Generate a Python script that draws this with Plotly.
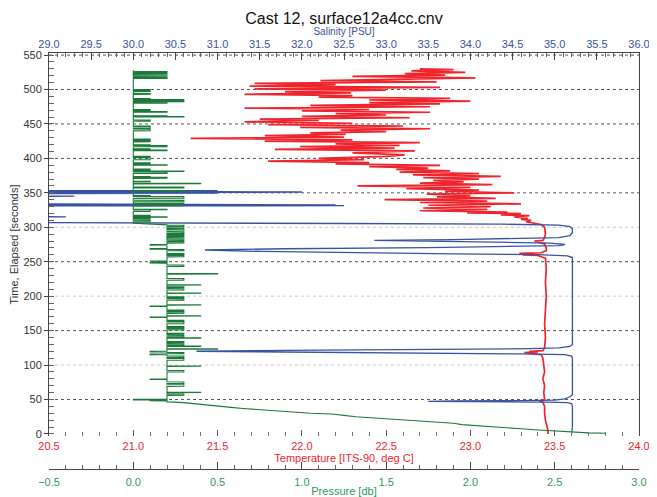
import plotly.graph_objects as go

chart_title = "Cast 12, surface12a4cc.cnv"

# ---------------- Temperature [ITS-90, deg C] (red) vs elapsed time ----------------
temp_time = [0, 5, 10, 15, 20, 30, 40, 46, 48, 50, 60, 70, 80, 90, 100, 110, 115, 117, 118, 119, 120,
             121, 125, 140, 160, 180, 200, 220, 240, 255, 259, 260, 261, 262, 263, 266, 270, 276, 279,
             280, 281, 285, 290, 300, 304, 306, 308, 310, 311.5, 313, 315, 317, 318, 320, 321, 322,
             324, 326, 328, 330, 332, 334, 336, 338, 340, 342, 344, 346, 348, 350, 352, 354, 356,
             358, 360, 362, 364, 366, 368, 370, 372, 374, 376, 378, 380, 382, 384, 386, 388, 390,
             392, 394, 396, 398, 400, 403, 405, 408, 411, 413, 415, 417, 419, 421, 423, 425, 427,
             429, 431, 433, 435, 437, 439, 441, 443, 445, 447, 449, 451, 453, 455, 457, 459, 461,
             463, 465, 467, 469, 471, 473, 475, 477, 479, 481, 483, 485, 487, 489, 491, 493, 495,
             497, 499, 501, 503, 505, 507, 509, 511, 513, 515, 517, 519, 521, 523, 525, 527, 529, 530]
temp_val = [23.46, 23.46, 23.455, 23.45, 23.445, 23.44, 23.44, 23.43, 23.41, 23.44, 23.435, 23.44,
            23.43, 23.44, 23.435, 23.43, 23.42, 23.36, 23.32, 23.40, 23.35, 23.43, 23.44, 23.445,
            23.44, 23.445, 23.45, 23.445, 23.45, 23.445, 23.40, 23.31, 23.38, 23.29, 23.42, 23.45,
            23.45, 23.44, 23.40, 23.38, 23.43, 23.44, 23.445, 23.44, 23.42, 23.38, 23.33, 23.36,
            23.30, 23.34, 23.26, 23.35, 23.18, 23.30, 22.98, 23.22, 22.70, 23.10, 22.72, 23.12,
            22.75, 23.30, 22.70, 23.10, 22.49, 23.15, 22.80, 23.00, 22.74, 23.26, 22.85, 23.05,
            22.62, 23.00, 22.33, 23.13, 22.70, 22.96, 22.78, 23.05, 22.72, 23.18, 22.66, 23.05,
            22.58, 22.88, 22.56, 22.75, 22.40, 22.82, 22.20, 22.40, 21.80, 22.37, 22.10, 22.50,
            22.61, 22.30, 22.67, 21.84, 22.55, 21.99, 22.58, 22.20, 22.70, 21.78, 22.30, 21.34,
            22.25, 21.78, 22.26, 22.05, 22.50, 22.23, 22.76, 21.99, 22.60, 21.80, 22.30, 21.66,
            22.10, 21.75, 22.64, 22.00, 22.50, 22.20, 22.76, 22.00, 22.40, 21.66, 22.76, 22.05,
            22.82, 22.40, 23.00, 22.40, 22.88, 22.10, 22.30, 21.66, 22.29, 21.90, 22.50, 21.72,
            22.82, 21.69, 22.20, 21.72, 22.80, 22.11, 22.60, 23.03, 22.30, 22.85, 22.61, 22.97,
            22.65, 22.90, 22.70]

# ---------------- Salinity [PSU] (blue) vs elapsed time ----------------
sal_time = [0, 10, 20, 30, 40, 44, 45.5, 46.3, 46.8, 47.3, 47.8, 48.3, 49, 51, 54, 57, 70, 90, 110,
            113, 115, 116.2, 117.2, 118.5, 120, 121.2, 122.5, 123.8, 125, 127, 130, 160, 200, 240,
            256, 258.5, 260.2, 261.5, 263, 265, 267, 268.8, 270.5, 272, 273.5, 275, 277, 278.5,
            279.8, 281, 282.2, 283.5, 285, 288, 292, 298, 301, 303, 304.5, 305.5, 306.2, 307,
            314.6, 315.2, 315.8, 330.8, 331.4, 332.0, 332.6, 333.2, 333.6, 334.2, 344.5, 345.1,
            345.7, 348.8, 349.4, 350.0, 350.6, 351.2, 351.8, 352.4, 353.0, 353.5, 530]
sal_val = [35.20, 35.21, 35.21, 35.21, 35.21, 35.20, 35.15, 34.9, 34.3, 33.5, 33.8, 34.6, 35.0,
           35.12, 35.18, 35.21, 35.21, 35.21, 35.21, 35.20, 35.12, 34.6, 33.4, 32.0, 30.75, 31.8,
           33.6, 34.7, 35.05, 35.18, 35.21, 35.21, 35.21, 35.21, 35.21, 35.15, 34.8, 33.8, 32.5,
           31.5, 30.85, 31.8, 33.5, 34.6, 35.05, 35.12, 34.95, 34.3, 33.4, 32.86, 33.8, 34.7,
           35.05, 35.18, 35.21, 35.21, 35.18, 35.05, 34.4, 32.5, 29.5, 28.0, 28.0, 29.2, 28.0,
           28.0, 32.5, 28.0, 32.4, 28.0, 31.1, 28.0, 28.0, 29.3, 28.0, 28.0, 31.0, 28.0, 31.0,
           32.0, 31.0, 28.0, 31.0, 28.0, 28.0]

# ---------------- Pressure [db] (green) vs elapsed time ----------------
pres_descent_time = [0.0, 1.0, 1.5, 2.5, 3.0, 4.0, 5.0, 6.0, 7.5, 9.0, 10.5, 12.5, 13.5, 15.5, 17.0,
                     19.0, 20.0, 22.0, 23.0, 25.0, 27.0, 29.0, 30.0, 31.5, 33.0, 35.0, 37.0, 38.5,
                     40.5, 42.5, 44.0, 45.5]
pres_descent_val = [2.80, 2.80, 2.70, 2.62, 2.55, 2.50, 2.40, 2.38, 2.30, 2.22, 2.10, 2.02, 1.95,
                    1.90, 1.80, 1.70, 1.60, 1.52, 1.40, 1.32, 1.25, 1.18, 1.05, 0.95, 0.85, 0.78,
                    0.65, 0.58, 0.50, 0.42, 0.35, 0.30]
# stretches where the reading rests on one level
pres_rest_start = [46.5, 306.0]
pres_rest_end = [303.5, 528.0]
pres_rest_level = [0.2, 0.0]
# short excursions away from the resting level: start time, level reached, duration
pres_exc_time = [48.0, 49.3, 56, 60, 69, 73, 79, 90, 98, 107, 111, 115, 116.5, 119, 123, 127, 129,
                 132.5, 139, 141, 144.5, 151, 154.5, 160, 163.5, 169, 171, 175, 178.5, 185, 187,
                 194, 197.5, 204, 209, 212, 216, 223, 232, 243, 248, 250.5, 257, 260.5, 266, 268,
                 274, 277, 280.5, 284, 286.5, 289, 291, 294, 298, 301,
                 308, 312, 314.5, 316, 323, 325.5, 331, 334, 337, 342, 345, 352, 357, 363, 366,
                 371, 373, 378, 381, 383, 390, 392, 398, 402, 411, 413, 417, 419, 424, 427, 440,
                 443.5, 446, 454, 460, 461, 467, 469.5, 480, 482, 484.5, 486, 493, 497, 499, 516,
                 519, 522, 525]
pres_exc_level = [0.1, 0.0, 0.3, 0.4, 0.3, 0.3, 0.1, 0.3, 0.4, 0.3, 0.3, 0.1, 0.3, 0.1, 0.5, 0.4,
                  0.3, 0.3, 0.4, 0.3, 0.3, 0.3, 0.3, 0.3, 0.3, 0.1, 0.4, 0.3, 0.3, 0.1, 0.4, 0.3,
                  0.3, 0.4, 0.3, 0.3, 0.4, 0.3, 0.5, 0.3, 0.1, 0.1, 0.3, 0.3, 0.3, 0.1, 0.1, 0.3,
                  0.3, 0.3, 0.3, 0.3, 0.3, 0.3, 0.3, 0.3,
                  0.1, 0.1, 0.2, 0.1, 0.1, 0.2, 0.3, 0.3, 0.3, 0.3, 0.1, 0.3, 0.3, 0.4, 0.1, 0.2,
                  0.1, 0.2, 0.3, 0.1, 0.2, 0.1, 0.1, 0.1, 0.2, 0.1, 0.2, 0.1, 0.1, 0.1, 0.1, 0.1,
                  0.1, 0.1, 0.3, 0.2, 0.2, 0.1, 0.2, 0.3, 0.3, 0.1, 0.1, 0.1, 0.1, 0.2, 0.2, 0.2,
                  0.2]
pres_exc_dur = [0.8, 0.8, 2, 0.6, 3, 2.5, 0.8, 2, 0.6, 2.5, 2, 0.8, 1.5, 0.8, 0.6, 0.6, 2, 1.5, 0.6,
                2, 1.5, 2, 1.5, 2.5, 1.5, 0.8, 0.6, 2, 1.5, 0.8, 0.6, 2, 1.5, 0.6, 2, 1.5, 0.6, 2.5,
                0.8, 2, 0.8, 0.6, 2, 1.5, 1.5, 1.0, 0.8, 2, 1.5, 1.5, 1, 1.5, 2, 2.5, 2, 2,
                2, 1.5, 0.6, 1.5, 2, 0.6, 2, 0.8, 2, 2.5, 1, 1.5, 1.5, 0.8, 0.8, 1.5, 0.8, 2, 0.6,
                1.5, 0.6, 1.5, 3, 1, 1, 0.8, 1.5, 0.8, 1.5, 1, 2.5, 2, 0.8, 1.5, 0.6, 0.8, 1, 1.5,
                1, 1.5, 0.8, 0.8, 1, 1.5, 0.8, 1.5, 0.8, 1.5, 1.2]

# ---------------- axes ----------------
time_ticks = list(range(0, 551, 50))
grid_dark = [50, 150, 250, 350, 400, 450, 500, 550]
grid_light = [100, 200, 300]

RED = "#f0242c"
BLUE = "#3953a4"
GREEN = "#2e9a5a"
GREEN_LINE = "#1b7a3a"
FONT = "Liberation Sans, Arial, sans-serif"

# build the pressure path from the read-off pieces
pt, pv = list(pres_descent_time), list(pres_descent_val)
for s, e, base in zip(pres_rest_start, pres_rest_end, pres_rest_level):
    pt.append(s)
    pv.append(base)
    for t0, lvl, d in zip(pres_exc_time, pres_exc_level, pres_exc_dur):
        if s <= t0 < e:
            pt += [t0, t0 + 0.15, t0 + d, t0 + d + 0.15]
            pv += [base, lvl, lvl, base]
    pt.append(e)
    pv.append(base)

fig = go.Figure()
fig.add_trace(go.Scatter(x=pv, y=pt, mode="lines", xaxis="x3", yaxis="y",
                         line=dict(color=GREEN_LINE, width=1.1), name="Pressure"))
fig.add_trace(go.Scatter(x=sal_val, y=sal_time, mode="lines", xaxis="x2", yaxis="y",
                         line=dict(color=BLUE, width=1.3), name="Salinity"))
fig.add_trace(go.Scatter(x=temp_val, y=temp_time, mode="lines", xaxis="x", yaxis="y",
                         line=dict(color=RED, width=1.7), name="Temperature"))

for g in grid_dark:
    fig.add_hline(y=g, line=dict(color="#555555", width=1, dash="dot"), layer="below")
for g in grid_light:
    fig.add_hline(y=g, line=dict(color="#c8c8c8", width=1, dash="dot"), layer="below")

# the page body has an 8 px margin, so the figure is drawn 8 px in from the corner
FIG_W, FIG_H = 649, 489
M_L, M_R, M_T, M_B = 41, 18, 45, 28
plot_bottom_px = 33
plot_h = FIG_H - M_T - M_B

fig.update_layout(
    width=FIG_W, height=FIG_H,
    margin=dict(l=M_L, r=M_R, t=M_T, b=M_B, autoexpand=False),
    paper_bgcolor="white", plot_bgcolor="white",
    showlegend=False,
    font=dict(family=FONT, size=11, color="#333333"),
    title=dict(text=chart_title, x=0.5, xref="paper", y=1 - 10 / FIG_H, yref="container",
               xanchor="center", yanchor="middle",
               font=dict(family=FONT, size=16, color="#111111")),
    xaxis=dict(range=[20.5, 24.0], anchor="y", side="bottom", automargin=False,
               tickmode="linear", tick0=20.5, dtick=0.5, tickformat=".1f",
               tickfont=dict(color=RED, size=11), ticks="inside", ticklen=6,
               tickcolor="#555555", ticklabelstandoff=2,
               minor=dict(dtick=0.1, ticks="inside", ticklen=4, tickcolor="#777777"),
               showline=False, showgrid=False, zeroline=False,
               title=dict(text="Temperature [ITS-90, deg C]", font=dict(color=RED, size=11),
                          standoff=0)),
    xaxis2=dict(range=[29, 36], overlaying="x", anchor="y", side="top", automargin=False,
                tickmode="linear", tick0=29, dtick=0.5, tickformat=".1f",
                tickfont=dict(color=BLUE, size=11), ticks="inside", ticklen=7,
                tickcolor="#444444",
                minor=dict(dtick=0.1, ticks="inside", ticklen=4, tickcolor="#666666"),
                showline=True, linecolor="#444444", linewidth=1,
                showgrid=False, zeroline=False,
                title=dict(text="Salinity [PSU]", font=dict(color=BLUE, size=10), standoff=0)),
    xaxis3=dict(range=[-0.5, 3.0], overlaying="x", anchor="free", position=0, side="bottom",
                automargin=False,
                tickmode="linear", tick0=-0.5, dtick=0.5, tickformat=".1f",
                tickfont=dict(color=GREEN, size=11), ticks="inside", ticklen=7,
                tickcolor="#444444", ticklabelstandoff=3,
                minor=dict(dtick=0.1, ticks="inside", ticklen=4, tickcolor="#666666"),
                showline=True, linecolor="#444444", linewidth=1,
                showgrid=False, zeroline=False,
                title=dict(text="Pressure [db]", font=dict(color=GREEN, size=11), standoff=5)),
    yaxis=dict(range=[-3, 553], domain=[plot_bottom_px / plot_h, 1], automargin=False,
               tickvals=time_ticks, ticks="outside", ticklen=4, tickcolor="#444444",
               tickfont=dict(color="#333333", size=11),
               minor=dict(dtick=10, ticks="inside", ticklen=5, tickcolor="#666666"),
               showline=True, linecolor="#444444", linewidth=1, mirror=True,
               showgrid=False, zeroline=False,
               title=dict(text="Time, Elapsed [seconds]", font=dict(color="#333333", size=11),
                          standoff=6)),
)

fig.write_html("out.html")
